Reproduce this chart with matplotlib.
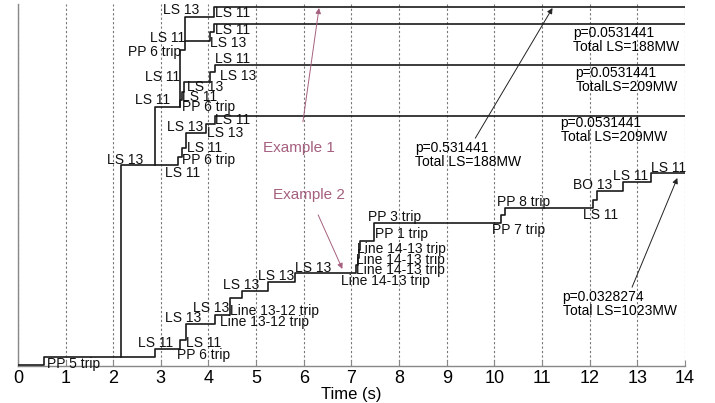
import matplotlib
matplotlib.use("Agg")
import matplotlib.pyplot as plt
from matplotlib import font_manager

# event sequence data: time (s) vs cumulative event level
main_t = [0, 0.55, 2.88, 3.40, 3.53, 4.14, 4.45, 4.71, 5.25, 5.82, 7.10, 7.13, 7.16,
          7.19, 7.48, 10.13, 10.23, 12.08, 12.16, 12.69, 13.28, 14]
main_y = [1, 9, 17, 26, 42, 51, 68, 75, 84, 93, 101, 108, 116, 125, 143, 151, 158,
          166, 175, 184, 193, 193]

branch_b_t = [2.16, 2.16, 3.36, 3.45, 3.53, 3.95, 4.14, 14]
branch_b_y = [9, 201, 209, 218, 233, 242, 250, 250]

branch_a1_t = [2.88, 2.88, 3.40, 3.45, 3.49, 4.03, 4.14, 14]
branch_a1_y = [201, 259, 266, 274, 284, 294, 301, 301]

branch_a2_t = [3.40, 3.40, 3.50, 4.03, 4.12, 14]
branch_a2_y = [259, 316, 325, 334, 342, 342]

branch_a3_t = [3.50, 3.50, 4.12, 14]
branch_a3_y = [325, 349, 359, 359]

paths = [(main_t, main_y), (branch_b_t, branch_b_y), (branch_a1_t, branch_a1_y),
         (branch_a2_t, branch_a2_y), (branch_a3_t, branch_a3_y)]

event_labels = ["PP 5 trip", "LS 11", "LS 11", "PP 6 trip", "LS 13", "LS 13",
                "Line 13-12 trip", "Line 13-12 trip", "LS 13", "LS 13", "LS 13",
                "Line 14-13 trip", "Line 14-13 trip", "Line 14-13 trip", "Line 14-13 trip",
                "PP 1 trip", "PP 3 trip", "PP 7 trip", "PP 8 trip", "LS 11", "BO 13",
                "LS 11", "LS 11",
                "LS 13", "LS 11", "PP 6 trip", "LS 11", "LS 11", "LS 13", "LS 13", "LS 11",
                "PP 6 trip", "LS 11", "LS 13", "LS 11", "LS 11", "LS 13", "LS 11",
                "PP 6 trip", "LS 11", "LS 13", "LS 13", "LS 11"]
event_label_t = [0.61, 2.52, 3.53, 3.34, 3.09, 3.68, 4.24, 4.45, 4.31, 5.04, 5.82,
                 6.79, 7.10, 7.10, 7.12, 7.50, 7.35, 9.96, 10.06, 11.87, 11.66, 12.48, 13.28,
                 1.87, 2.46, 3.45, 3.55, 3.09, 3.13, 3.97, 4.14,
                 3.45, 3.45, 3.55, 2.67, 4.14, 4.24, 2.77, 2.31, 4.14, 4.03, 3.05, 4.14]
event_label_y = [2, 23, 23, 11, 48, 58, 44, 55, 81, 90, 98,
                 85, 96, 106, 117, 132, 149, 136, 164, 151, 181, 190, 198,
                 206, 266, 206, 218, 193, 239, 233, 246,
                 259, 269, 279, 289, 307, 290, 328, 314, 336, 323, 356, 353]

prob_texts = ["p=0.0531441\nTotal LS=188MW", "p=0.0531441\nTotalLS=209MW",
              "p=0.0531441\nTotal LS=209MW"]
prob_t = [11.66, 11.70, 11.39]
prob_y = [326, 286, 236]

fig = plt.figure(figsize=(7.15, 4.03), dpi=100)
ax = fig.add_axes([0.025, 0.092, 0.933, 0.898])

plt.rcParams['font.family'] = ['Liberation Sans', 'DejaVu Sans']
names = {f.name for f in font_manager.fontManager.ttflist}
narrow = 'Liberation Sans Narrow' if 'Liberation Sans Narrow' in names else 'Liberation Sans'

for t, y in paths:
    ax.plot(t, y, drawstyle='steps-post', color='#1a1a1a', lw=1.2, zorder=3)

for s, t, y in zip(event_labels, event_label_t, event_label_y):
    ax.text(t, y, s, fontsize=10, ha='left', va='center', family='Liberation Sans',
            color='#111111', zorder=4)

for s, t, y in zip(prob_texts, prob_t, prob_y):
    ax.text(t, y, s, fontsize=10, ha='left', va='center', linespacing=1.0,
            family='Liberation Sans')

mauve = '#a5607f'
ax.annotate("Example 1", xy=(6.32, 358), xytext=(5.15, 218), fontsize=11, color=mauve,
            va='center', ha='left', family='Liberation Sans',
            arrowprops=dict(arrowstyle='-|>', color=mauve, lw=0.7, shrinkA=12, shrinkB=0,
                            mutation_scale=8))
ax.annotate("Example 2", xy=(6.81, 97), xytext=(5.36, 171), fontsize=11, color=mauve,
            va='center', ha='left', family='Liberation Sans',
            arrowprops=dict(arrowstyle='-|>', color=mauve, lw=0.7, shrinkA=8, shrinkB=0,
                            mutation_scale=8))
ax.annotate("p=0.531441\nTotal LS=188MW", xy=(11.22, 358), xytext=(8.34, 211), fontsize=10,
            va='center', ha='left', linespacing=1.0, family='Liberation Sans',
            arrowprops=dict(arrowstyle='-|>', color='#222222', lw=0.7, shrinkA=0, shrinkB=0,
                            mutation_scale=8, relpos=(0.55, 1.0)))
ax.annotate("p=0.0328274\nTotal LS=1023MW", xy=(13.84, 188), xytext=(11.43, 62), fontsize=10,
            va='center', ha='left', linespacing=1.0, family='Liberation Sans',
            arrowprops=dict(arrowstyle='-|>', color='#222222', lw=0.7, shrinkA=0, shrinkB=0,
                            mutation_scale=8, relpos=(0.6, 1.0)))

ax.set_xlim(0, 14)
ax.set_ylim(0, 362)
ax.set_xticks(range(0, 15))
ax.set_yticks([])
ax.grid(axis='x', linestyle=(0, (2, 2)), color='#777777', lw=0.8)
for tk in ax.get_xticklabels():
    tk.set_family(narrow)
    tk.set_fontsize(13)
ax.tick_params(axis='x', direction='in', length=4, color='#888888', pad=3)
ax.set_xlabel("Time (s)", fontsize=12, family=narrow, labelpad=0)
for side in ['top', 'right']:
    ax.spines[side].set_visible(False)
for side in ['left', 'bottom']:
    ax.spines[side].set_color('#888888')
    ax.spines[side].set_linewidth(1.0)

fig.savefig("out.png", dpi=100)
